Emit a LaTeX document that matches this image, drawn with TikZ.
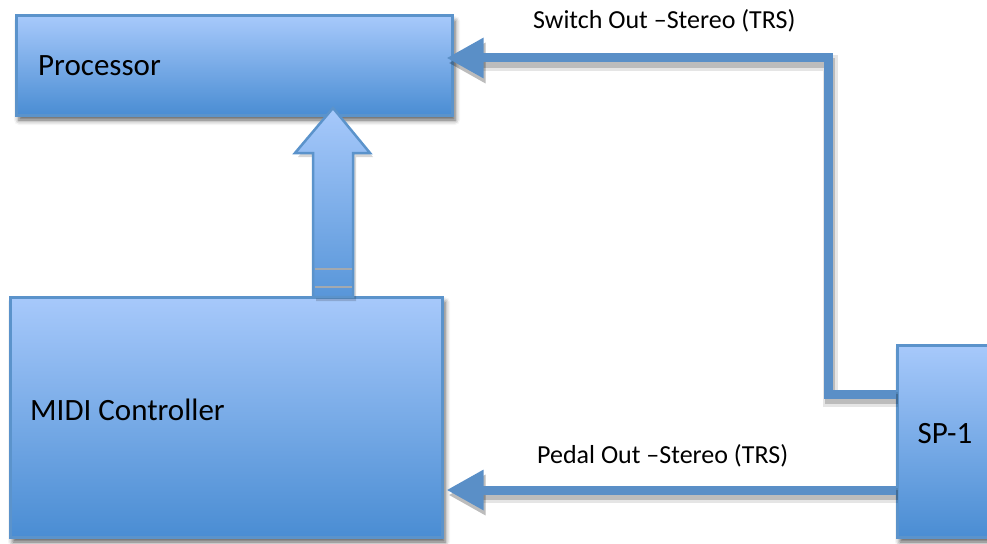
\documentclass[tikz,border=0pt]{standalone}
\usepackage{fontspec}
\setmainfont{Carlito}
\usetikzlibrary{arrows.meta,shadows.blur}

\definecolor{boxtop}{HTML}{A7C9FB}
\definecolor{boxbot}{HTML}{4A8DD3}
\definecolor{edge}{HTML}{5B93CB}
\definecolor{wire}{HTML}{5A8FC7}
\definecolor{band}{HTML}{A3A9AF}

\tikzset{
  box/.style={rectangle, draw=edge, line width=3pt, inner sep=0pt,
    top color=boxtop, bottom color=boxbot,
    blur shadow={shadow xshift=3pt, shadow yshift=-5pt,
      shadow blur radius=5pt, shadow opacity=65}},
  boxtext/.style={font=\fontsize{31}{36}\selectfont, inner sep=0pt},
  cable/.style={draw=wire, line width=9pt, line join=miter,
    -{Triangle[length=37pt,width=38pt]},
    preaction={draw=black, opacity=.10, line width=15pt,
      transform canvas={shift={(2pt,-5pt)}}},
    preaction={draw=black, opacity=.18, line width=10pt,
      transform canvas={shift={(2pt,-5pt)}}}},
  cabletext/.style={font=\fontsize{26}{30}\selectfont, inner sep=0pt, anchor=base west},
}

\begin{document}
\begin{tikzpicture}[x=1pt, y=-1pt]
\useasboundingbox (0,0) rectangle (987,543);

% boxes
\node[box, minimum width=436pt, minimum height=99pt] (processor) at (234,65.5) {};
\node[box, minimum width=432pt, minimum height=240pt] (midi) at (226,417) {};
\node[box, minimum width=112pt, minimum height=192pt] (sp1) at (953,441) {};

\node[boxtext, anchor=base west] (ptext) at (38,75) {Processor};
\node[boxtext, anchor=base west] (mtext) at (30,420) {MIDI Controller};
\node[boxtext, anchor=base] (stext) at (945,443) {SP-1};

% MIDI data arrow into the processor
\fill[black, opacity=.16, transform canvas={shift={(3pt,-4pt)}}]
  (333,108) -- (370,153) -- (353,153) -- (353,297) -- (313,297) -- (313,153) -- (295,153) -- cycle;
\draw[edge, line width=2.5pt, line join=miter, top color=boxtop, bottom color=boxbot!85!boxtop]
  (333,108) -- (370,153) -- (353,153) -- (353,297) -- (313,297) -- (313,153) -- (295,153) -- cycle;
\draw[band, line width=2pt] (314.5,269) -- (351.5,269);
\draw[band, line width=2pt] (314.5,287) -- (351.5,287);

% cables from the SP-1
\coordinate (bend) at (828,394);
\coordinate (rise) at (828,58);
\draw[cable, shorten >=-7pt] (sp1.west |- bend) -- (bend) -- (rise) -- (processor.east |- rise);
\coordinate (pedal) at (700,490);
\draw[cable, shorten >=3pt] (sp1.west |- pedal) -- (midi.east |- pedal);

\node[cabletext] (swl) at (533,29) {Switch Out –Stereo (TRS)};
\node[cabletext] (pdl) at (537,463) {Pedal Out –Stereo (TRS)};
\end{tikzpicture}
\end{document}
